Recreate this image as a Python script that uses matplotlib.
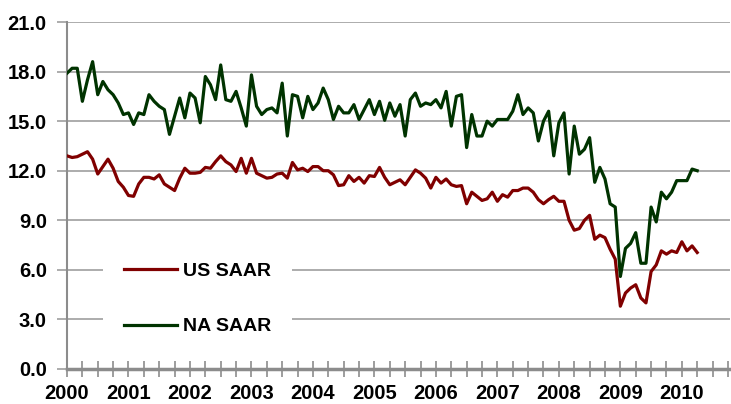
import matplotlib
matplotlib.use("Agg")
import matplotlib.pyplot as plt
import numpy as np

# Monthly SAAR (millions), Jan 2000 - Apr 2010
us_saar = [
    12.9, 12.8, 12.85, 13.0, 13.15, 12.7, 11.8, 12.25, 12.7, 12.15, 11.35, 11.0,
    10.5, 10.45, 11.2, 11.6, 11.6, 11.5, 11.75, 11.2, 11.0, 10.8, 11.55, 12.15,
    11.85, 11.85, 11.9, 12.2, 12.15, 12.55, 12.9, 12.55, 12.35, 11.95, 12.75, 11.85,
    12.75, 11.85, 11.7, 11.55, 11.6, 11.8, 11.85, 11.55, 12.5, 12.05, 12.15, 11.95,
    12.25, 12.25, 12.0, 12.0, 11.75, 11.1, 11.15, 11.7, 11.35, 11.6, 11.25, 11.7,
    11.65, 12.2, 11.6, 11.15, 11.3, 11.45, 11.15, 11.6, 12.05, 11.85, 11.55, 10.95,
    11.6, 11.25, 11.5, 11.15, 11.05, 11.1, 10.0, 10.7, 10.45, 10.2, 10.3, 10.7,
    10.15, 10.55, 10.4, 10.8, 10.8, 10.95, 10.95, 10.7, 10.25, 10.0, 10.25, 10.45,
    10.15, 10.15, 9.0, 8.4, 8.5, 9.0, 9.3, 7.85, 8.1, 7.95, 7.25, 6.65,
    3.8, 4.6, 4.9, 5.1, 4.3, 4.0, 5.9, 6.3, 7.15, 6.95, 7.15, 7.05,
    7.7, 7.15, 7.45, 7.05,
]
na_saar = [
    17.9, 18.2, 18.2, 16.2, 17.5, 18.6, 16.6, 17.4, 16.9, 16.6, 16.1, 15.4,
    15.5, 14.8, 15.5, 15.4, 16.6, 16.2, 15.9, 15.7, 14.2, 15.3, 16.4, 15.2,
    16.7, 16.4, 14.9, 17.7, 17.2, 16.3, 18.4, 16.3, 16.2, 16.8, 15.8, 14.7,
    17.8, 15.9, 15.4, 15.7, 15.8, 15.5, 17.3, 14.1, 16.6, 16.5, 15.2, 16.5,
    15.7, 16.1, 17.0, 16.3, 15.1, 15.9, 15.5, 15.5, 16.0, 15.1, 15.7, 16.3,
    15.4, 16.2, 15.05, 16.1, 15.3, 16.0, 14.1, 16.3, 16.7, 15.9, 16.1, 16.0,
    16.3, 15.8, 16.8, 14.7, 16.5, 16.6, 13.4, 15.4, 14.1, 14.1, 15.0, 14.7,
    15.1, 15.1, 15.1, 15.6, 16.6, 15.4, 15.8, 15.5, 13.8, 15.0, 15.6, 12.9,
    14.9, 15.5, 11.8, 14.7, 13.0, 13.3, 14.0, 11.3, 12.2, 11.5, 10.0, 9.8,
    5.6, 7.3, 7.6, 8.25, 6.4, 6.4, 9.8, 8.9, 10.7, 10.3, 10.7, 11.4,
    11.4, 11.4, 12.1, 12.0,
]
year_labels = ["2000", "2001", "2002", "2003", "2004", "2005",
               "2006", "2007", "2008", "2009", "2010"]
y_ticks = [0.0, 3.0, 6.0, 9.0, 12.0, 15.0, 18.0, 21.0]
series_names = ["US SAAR", "NA SAAR"]

RED = "#800000"
GREEN = "#003300"
GRID = "#a6a6a6"

plt.rcParams["font.family"] = ["Liberation Sans", "DejaVu Sans"]
plt.rcParams["font.weight"] = "bold"

fig = plt.figure(figsize=(7.31, 4.04), dpi=100)
ax = fig.add_axes([67 / 731, 35 / 404, 663 / 731, 347 / 404])

months = np.arange(len(us_saar))
ax.plot(months, us_saar, color=RED, lw=2.3, solid_joinstyle="round",
        label=series_names[0], zorder=3)
ax.plot(months, na_saar, color=GREEN, lw=2.3, solid_joinstyle="round",
        label=series_names[1], zorder=3)

ax.set_ylim(0, 21)
ax.set_xlim(0, 129.4)
ax.set_yticks(y_ticks)
ax.set_yticklabels([f"{v:.1f}" for v in y_ticks])
ax.set_xticks(np.arange(len(year_labels)) * 12)
ax.set_xticklabels(year_labels)
ax.set_xticks(np.arange(0, 130, 3), minor=True)

ax.yaxis.grid(True, color=GRID, lw=1.3, zorder=0)
ax.set_axisbelow(True)

for s in ["top", "right"]:
    ax.spines[s].set_visible(False)
ax.spines["left"].set_color("#8c8c8c")
ax.spines["left"].set_linewidth(1.5)
ax.spines["bottom"].set_color("#8c8c8c")
ax.spines["bottom"].set_linewidth(2.5)

ax.tick_params(axis="y", direction="out", length=7, width=1.3, color=GRID,
               labelsize=14.5, pad=7.5)
ax.tick_params(axis="x", which="both", direction="inout", length=12,
               width=1.2, color="#8c8c8c", labelsize=14.5, pad=5)
for lab in ax.get_xticklabels() + ax.get_yticklabels():
    lab.set_fontweight("bold")

leg = ax.legend(loc="lower left", bbox_to_anchor=(36 / 663, 0.035),
                frameon=True, fancybox=False, edgecolor="none",
                facecolor="white", framealpha=1.0,
                prop={"weight": "bold", "size": 14},
                handlelength=2.7, handletextpad=0.3, labelspacing=1.95,
                borderpad=1.1, borderaxespad=0)
for h in leg.get_lines():
    h.set_linewidth(2.3)

fig.savefig("out.png", dpi=100, facecolor="white")
